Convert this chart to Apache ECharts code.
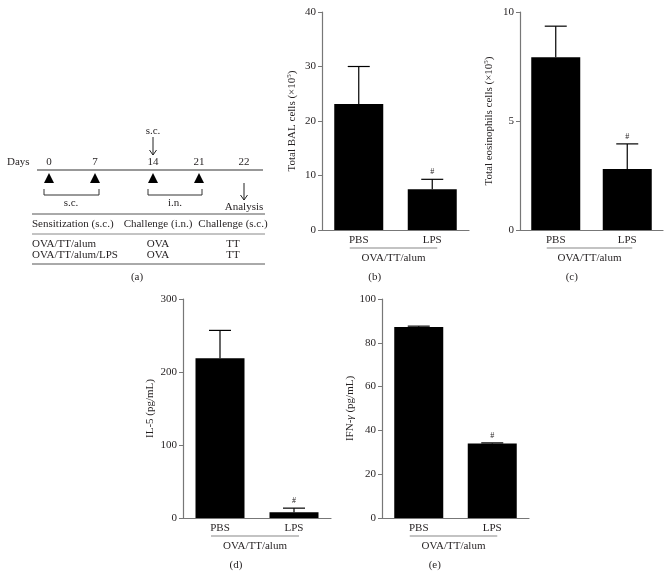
<!DOCTYPE html>
<html>
<head>
<meta charset="utf-8">
<script src="https://cdn.jsdelivr.net/npm/echarts@6/dist/echarts.min.js"></script>
<style>html,body{margin:0;padding:0;background:#fff;}#c{width:672px;height:577px;}</style>
</head>
<body>
<div id="c"></div>
<script>
// ---------- data ----------
var categories = ['PBS', 'LPS'];
var groupLabel = 'OVA/TT/alum';
var balMean = [23.1, 7.5];
var balErr = [6.9, 1.8];
var eosMean = [7.93, 2.8];
var eosErr = [1.42, 1.15];
var il5Mean = [219, 8];
var il5Err = [38, 5.5];
var ifnMean = [87.2, 34.0];
var ifnErr = [0.4, 0.3];
var sigFlags = [0, 1];
var dayLabels = ['0', '7', '14', '21', '22'];
var tableHeader = ['Sensitization (s.c.)', 'Challenge (i.n.)', 'Challenge (s.c.)'];
var tableRows = [
  ['OVA/TT/alum', 'OVA', 'TT'],
  ['OVA/TT/alum/LPS', 'OVA', 'TT']
];
var panelLetters = ['(a)', '(b)', '(c)', '(d)', '(e)'];

// ---------- style ----------
var FONT = '"Liberation Serif", "DejaVu Serif", serif';
var TXT = '#231f20';
var AX = '#777';

var grids = [
  {left: 322, top: 12, width: 147, height: 218},
  {left: 520, top: 12, width: 143, height: 218},
  {left: 183, top: 299, width: 148, height: 219},
  {left: 382, top: 299, width: 147, height: 219}
];
var yConf = [
  {max: 40, interval: 10, name: 'Total BAL cells (×10{sup|5})', gap: 23},
  {max: 10, interval: 5, name: 'Total eosinophils cells (×10{sup|5})', gap: 24},
  {max: 300, interval: 100, name: 'IL-5 (pg/mL)', gap: 27},
  {max: 100, interval: 20, name: 'IFN-{i|γ} (pg/mL)', gap: 23}
];
var means = [balMean, eosMean, il5Mean, ifnMean];
var errs = [balErr, eosErr, il5Err, ifnErr];

function errRender(params, api) {
  var x = api.value(0), v = api.value(1), e = api.value(2), f = api.value(3);
  var p0 = api.coord([x, v]);
  var p1 = api.coord([x, v + e]);
  var st = {stroke: '#000', lineWidth: 1.2};
  var ch = [
    {type: 'line', shape: {x1: p0[0], y1: p0[1], x2: p1[0], y2: p1[1]}, style: st},
    {type: 'line', shape: {x1: p1[0] - 11, y1: p1[1], x2: p1[0] + 11, y2: p1[1]}, style: st}
  ];
  if (f) {
    ch.push({type: 'text', style: {text: '#', x: p1[0], y: p1[1] - 3, textAlign: 'center', textVerticalAlign: 'bottom', fontSize: 8, fill: TXT, fontFamily: FONT}});
  }
  return {type: 'group', children: ch};
}

var xAxes = [], yAxes = [], series = [], graphics = [];
grids.forEach(function (g, i) {
  xAxes.push({
    type: 'category', gridIndex: i, data: categories,
    axisLine: {lineStyle: {color: AX, width: 1.2}},
    axisTick: {show: false},
    axisLabel: {color: TXT, fontFamily: FONT, fontSize: 11, margin: 5}
  });
  yAxes.push({
    type: 'value', gridIndex: i, min: 0, max: yConf[i].max, interval: yConf[i].interval,
    name: yConf[i].name, nameLocation: 'middle', nameGap: yConf[i].gap,
    nameTextStyle: {color: TXT, fontFamily: FONT, fontSize: 11,
      rich: {sup: {fontSize: 7, fontFamily: FONT, color: TXT, padding: [0, 0, 6, 0]},
             i: {fontStyle: 'italic', fontSize: 11, fontFamily: FONT, color: TXT}}},
    axisLine: {show: true, lineStyle: {color: AX, width: 1.2}},
    axisTick: {show: true, length: 4, lineStyle: {color: AX}},
    axisLabel: {color: TXT, fontFamily: FONT, fontSize: 11, margin: 6},
    splitLine: {show: false}
  });
  series.push({
    type: 'bar', xAxisIndex: i, yAxisIndex: i, data: means[i], barWidth: 49,
    itemStyle: {color: '#000'}, silent: true, animation: false
  });
  series.push({
    type: 'custom', xAxisIndex: i, yAxisIndex: i, renderItem: errRender, z: 5,
    data: categories.map(function (c, k) { return [k, means[i][k], errs[i][k], sigFlags[k]]; }),
    animation: false, silent: true
  });
  // group underline + label + panel letter
  var cx = g.left + g.width / 4, cx2 = g.left + g.width * 3 / 4;
  var base = g.top + g.height;
  graphics.push({type: 'line', shape: {x1: cx - 9, y1: base + 18, x2: cx2 + 5, y2: base + 18}, style: {stroke: '#888', lineWidth: 1.2}});
  graphics.push({type: 'text', style: {text: groupLabel, x: (cx + cx2) / 2 - 2, y: base + 28, textAlign: 'center', textVerticalAlign: 'middle', fontSize: 11, fontFamily: FONT, fill: TXT}});
  graphics.push({type: 'text', style: {text: panelLetters[i + 1], x: cx + 16, y: base + 47, textAlign: 'center', textVerticalAlign: 'middle', fontSize: 11, fontFamily: FONT, fill: TXT}});
});

// ---------- panel (a): schematic ----------
var dayX = [49, 95, 153, 199, 244];
var T = {fontFamily: FONT, fontSize: 11, fill: TXT, textVerticalAlign: 'middle'};
function txt(s, x, y, align) { return {type: 'text', style: Object.assign({}, T, {text: s, x: x, y: y, textAlign: align || 'center'})}; }
function ln(x1, y1, x2, y2, c, w) { return {type: 'line', shape: {x1: x1, y1: y1, x2: x2, y2: y2}, style: {stroke: c || '#333', lineWidth: w || 1}}; }
function arrow(x, y1, y2) {
  return [ln(x, y1, x, y2, '#222', 1), ln(x - 3.5, y2 - 5, x, y2, '#222', 1), ln(x + 3.5, y2 - 5, x, y2, '#222', 1)];
}
graphics.push(txt('Days', 7, 162, 'left'));
dayLabels.forEach(function (d, k) { graphics.push(txt(d, dayX[k], 162)); });
graphics.push(ln(37, 170, 263, 170, '#333', 1.2));
[0, 1, 2, 3].forEach(function (k) {
  graphics.push({type: 'polygon', shape: {points: [[dayX[k], 173], [dayX[k] - 5, 183], [dayX[k] + 5, 183]]}, style: {fill: '#000'}});
});
function bracket(x1, x2) {
  return [ln(x1, 189, x1, 195, '#333'), ln(x1, 195, x2, 195, '#333'), ln(x2, 189, x2, 195, '#333')];
}
graphics = graphics.concat(bracket(44, 99), bracket(148, 202));
graphics.push(txt('s.c.', 71, 203));
graphics.push(txt('i.n.', 175, 203));
graphics.push(txt('s.c.', 153, 131));
graphics = graphics.concat(arrow(153, 137, 155), arrow(244, 183, 200));
graphics.push(txt('Analysis', 244, 207));
// table
var colX = [32, 158, 233];
var colAlign = ['left', 'center', 'center'];
graphics.push(ln(32, 214, 265, 214, '#555', 1));
tableHeader.forEach(function (h, k) { graphics.push(txt(h, colX[k], 224, colAlign[k])); });
graphics.push(ln(32, 234, 265, 234, '#888', 1));
tableRows.forEach(function (r, ri) {
  r.forEach(function (c, k) { graphics.push(txt(c, colX[k], 244 + ri * 11.5, colAlign[k])); });
});
graphics.push(ln(32, 264, 265, 264, '#555', 1));
graphics.push(txt(panelLetters[0], 137, 277));

var chart = echarts.init(document.getElementById('c'));
chart.setOption({
  animation: false,
  backgroundColor: '#fff',
  grid: grids,
  xAxis: xAxes,
  yAxis: yAxes,
  series: series,
  graphic: graphics
});
</script>
</body>
</html>
